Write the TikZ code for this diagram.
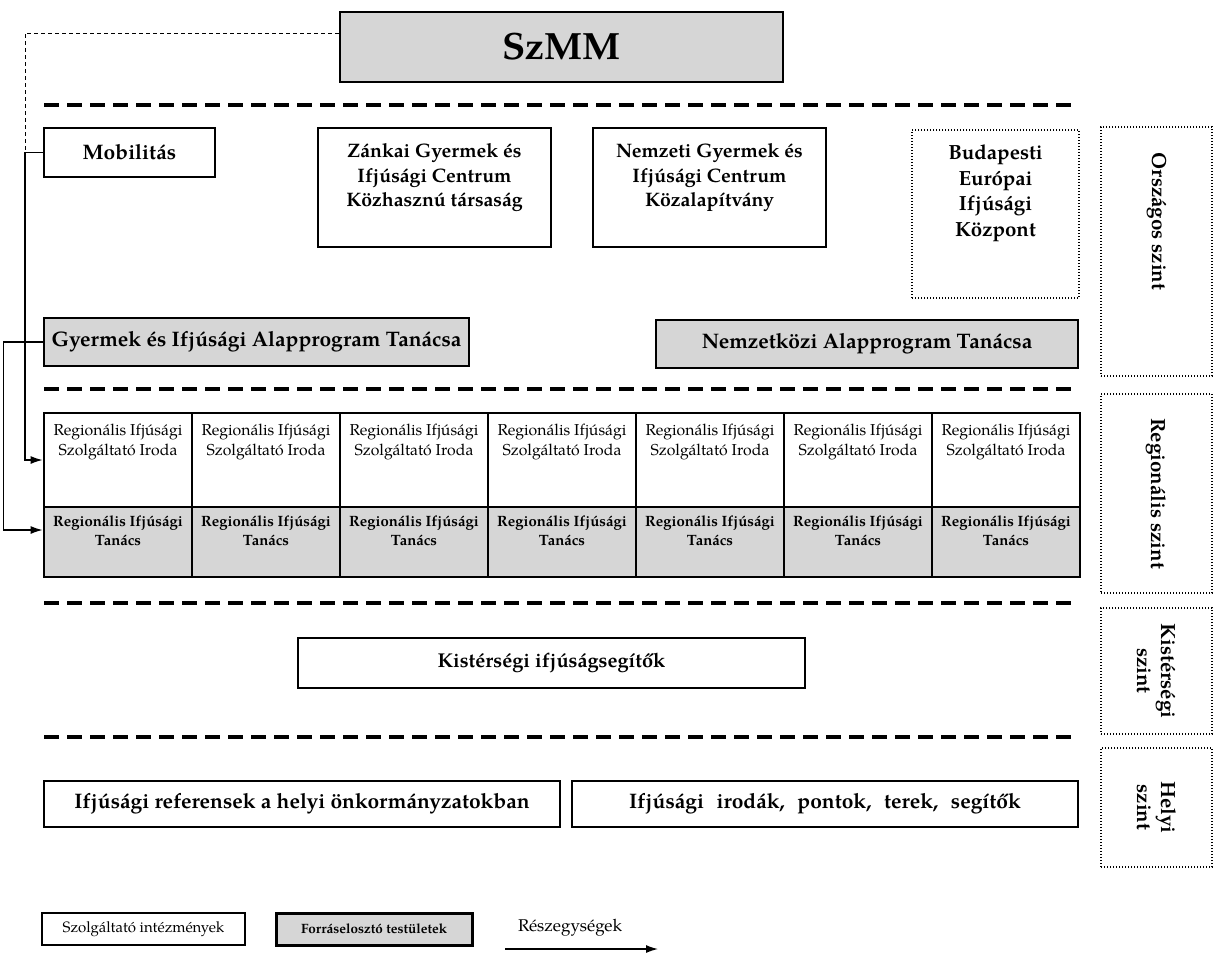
\documentclass[tikz,border=0pt]{standalone}
\usepackage{fontspec}
\setmainfont{TeX Gyre Pagella}
\usetikzlibrary{arrows.meta}
\definecolor{boxgray}{RGB}{214,214,214}
\begin{document}
\begin{tikzpicture}[x=1pt,y=-1pt,
  box/.style={draw, line width=2.8pt, inner sep=0pt, align=center,
    font=\bfseries\fontsize{21}{25}\selectfont},
  graybox/.style={box, fill=boxgray},
  dotbox/.style={draw, line width=2.6pt, dash pattern=on 1pt off 2pt, inner sep=0pt},
  lbl/.style={inner sep=0pt, align=center, font=\bfseries\fontsize{20.5}{24}\selectfont},
  celltxt/.style={inner sep=0pt, align=center, font=\fontsize{15.8}{20}\selectfont},
  celltxtb/.style={inner sep=0pt, align=center, font=\bfseries\fontsize{14.9}{19}\selectfont},
  sepline/.style={line width=4pt, dash pattern=on 15pt off 8pt},
  conn/.style={line width=1.3pt},
  arr/.style={line width=1.3pt, -{Latex[length=12pt,width=8pt]}},
  thindash/.style={line width=1pt, dash pattern=on 4pt off 3pt},
  legtxt/.style={inner sep=0pt, font=\fontsize{17}{19}\selectfont}
]
\useasboundingbox (0,0) rectangle (1222,954);

% top
\node[graybox, minimum width=443pt, minimum height=70pt, font=\bfseries\fontsize{38}{42}\selectfont] (szmm) at (561.5,47) {SzMM};

% separators
\coordinate (s1a) at (44,105);  \coordinate (s1b) at (1075,105);
\coordinate (s2a) at (44,389);  \coordinate (s2b) at (1075,389);
\coordinate (s3a) at (44,603);  \coordinate (s3b) at (1075,603);
\coordinate (s4a) at (44,737);  \coordinate (s4b) at (1075,737);
\draw[sepline] (s1a) -- (s1b);
\draw[sepline] (s2a) -- (s2b);
\draw[sepline] (s3a) -- (s3b);
\draw[sepline] (s4a) -- (s4b);

% national level
\node[box, minimum width=171pt, minimum height=49pt] (mob) at (129.5,152.5) {Mobilitás};
\node[box, minimum width=233pt, minimum height=119pt] (zan) at (434.5,187.5) {};
\node[box, minimum width=233pt, minimum height=119pt] (nem) at (709.5,187.5) {};
\node[lbl, anchor=north, font=\bfseries\fontsize{19.5}{24.5}\selectfont] (zant) at ([yshift=-17pt]zan.north) {Zánkai Gyermek és\\Ifjúsági Centrum\\Közhasznú társaság};
\node[lbl, anchor=north, font=\bfseries\fontsize{19.5}{24.5}\selectfont] (nemt) at ([yshift=-17pt]nem.north) {Nemzeti Gyermek és\\Ifjúsági Centrum\\Közalapítvány};
\node[dotbox, minimum width=167pt, minimum height=168pt] (bep) at (995.5,214) {};
\node[lbl, anchor=north, font=\bfseries\fontsize{20.5}{25.5}\selectfont] (bept) at ([yshift=-16pt]bep.north) {Budapesti\\Európai\\Ifjúsági\\Központ};

\node[graybox, minimum width=425pt, minimum height=48pt] (gyat) at (256.5,342) {Gyermek és Ifjúsági Alapprogram Tanácsa};
\node[graybox, minimum width=422pt, minimum height=48pt] (nat) at (867,344) {Nemzetközi Alapprogram Tanácsa};

% regional grid
\foreach \i in {0,...,6} {
  \pgfmathsetmacro\cx{118+148*\i}
  \node[box, fill=white, minimum width=148pt, minimum height=94pt] (r\i) at (\cx,460) {};
  \node[celltxt, anchor=north] (rt\i) at ([yshift=-12pt]r\i.north) {Regionális Ifjúsági\\Szolgáltató Iroda};
  \node[box, fill=boxgray, minimum width=148pt, minimum height=70pt] (t\i) at (\cx,542) {};
  \node[celltxtb, anchor=north] (tt\i) at ([yshift=-10pt]t\i.north) {Regionális Ifjúsági\\Tanács};
}

% sub-regional and local
\node[box, font=\bfseries\fontsize{20}{24}\selectfont, minimum width=507pt, minimum height=50pt] (kis) at (551.5,663) {Kistérségi ifjúságsegítők};
\node[box, minimum width=516pt, minimum height=46pt] (ref) at (302,804) {Ifjúsági referensek a helyi önkormányzatokban};
\node[box, minimum width=506pt, minimum height=46pt] (iro) at (825,804) {Ifjúsági\hspace{0.35em} irodák,\hspace{0.35em} pontok,\hspace{0.35em} terek,\hspace{0.35em} segítők};

% level labels
\node[dotbox, minimum width=111pt, minimum height=249pt] (lv1) at (1156.5,251.5) {};
\node[lbl, rotate=-90] (lv1t) at ([yshift=30pt]lv1.center) {Országos szint};
\node[dotbox, minimum width=111pt, minimum height=199pt] (lv2) at (1156.5,493.5) {};
\node[lbl, rotate=-90] (lv2t) at (lv2.center) {Regionális szint};
\node[dotbox, minimum width=111pt, minimum height=126pt] (lv3) at (1156.5,671) {};
\node[lbl, rotate=-90] (lv3t) at (lv3.center) {Kistérségi\\szint};
\node[dotbox, minimum width=111pt, minimum height=119pt] (lv4) at (1156.5,807.5) {};
\node[lbl, rotate=-90] (lv4t) at (lv4.center) {Helyi\\szint};

% connectors
\coordinate (j) at (25,152.5);
\draw[thindash] ([yshift=14pt]szmm.west) -| (j);
\draw[arr] (mob.west) -- (j) |- (r0.west);
\draw[arr] (gyat.west) -- ++(-39,0) |- ([yshift=12pt]t0.west);

% legend
\node[box, line width=2pt, minimum width=203pt, minimum height=32pt, font=\fontsize{15}{17}\selectfont] (lg1) at (143.5,929) {Szolgáltató intézmények};
\node[graybox, line width=3pt, minimum width=196pt, minimum height=32pt, font=\bfseries\fontsize{13.5}{17}\selectfont] (lg2) at (374,929) {Forráselosztó testületek};
\node[legtxt] (lg3) at (570,928) {Részegységek};
\coordinate (la) at (505,949);
\coordinate (lb) at (658,949);
\draw[arr] (la) -- (lb);
\end{tikzpicture}
\end{document}
